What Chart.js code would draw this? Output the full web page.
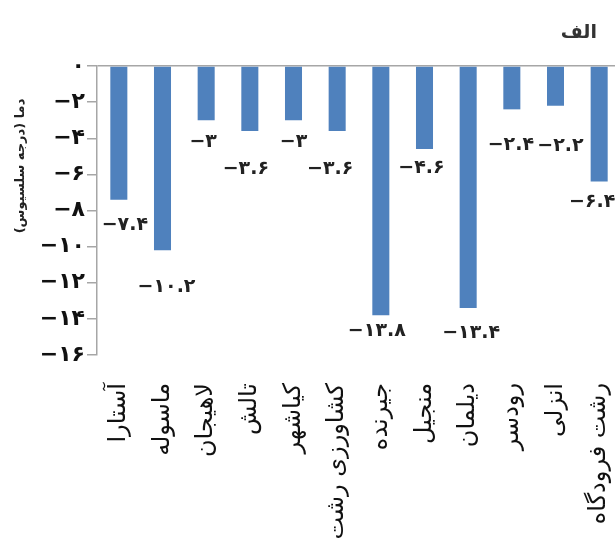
<!DOCTYPE html>
<html>
<head>
<meta charset="utf-8">
<script src="https://cdn.jsdelivr.net/npm/chart.js@4/dist/chart.umd.min.js"></script>
<style>
  html, body { margin: 0; padding: 0; background: #fff; overflow: hidden; }
  #wrap { width: 623px; height: 550px; }
</style>
</head>
<body>
<div id="wrap"><canvas id="chart" width="623" height="550"></canvas></div>
<script>
const STATIONS = ['آستارا', 'ماسوله', 'لاهیجان', 'تالش', 'کیاشهر', 'کشاورزی رشت', 'جیرنده', 'منجیل', 'دیلمان', 'رودسر', 'انزلی', 'رشت فرودگاه'];
const TEMPS = [-7.4, -10.2, -3, -3.6, -3, -3.6, -13.8, -4.6, -13.4, -2.4, -2.2, -6.4];
const Y_MIN = -16;
const Y_MAX = 0;
const Y_STEP = 2;
const PANEL = 'الف';
const Y_TITLE = 'دما (درجه سلسیوس)\u200F';

const FA_DIGITS = '۰۱۲۳۴۵۶۷۸۹';
function toFa(v) {
  return String(v).replace('-', '−').replace(/\d/g, d => FA_DIGITS[d]);
}

// value labels under each bar (hand-nudged like the original)
const valueLabels = {
  id: 'valueLabels',
  afterDatasetsDraw(chart, args, opts) {
    const ctx = chart.ctx;
    const meta = chart.getDatasetMeta(0);
    ctx.save();
    ctx.font = 'bold 19px "DejaVu Sans"';
    ctx.fillStyle = '#222';
    ctx.textAlign = 'center';
    ctx.textBaseline = 'middle';
    meta.data.forEach((bar, i) => {
      const n = opts.nudge[i] || [0, 24];
      ctx.fillText(toFa(chart.data.datasets[0].data[i]), bar.x + n[0], bar.y + n[1]);
    });
    ctx.restore();
  }
};

// panel letter + y axis title, placed relative to the plot area
const extraText = {
  id: 'extraText',
  afterDraw(chart) {
    const ctx = chart.ctx;
    const area = chart.chartArea;
    ctx.save();
    ctx.fillStyle = '#333';
    ctx.font = 'bold 19px "DejaVu Sans"';
    ctx.textAlign = 'right';
    ctx.textBaseline = 'middle';
    ctx.fillText(PANEL, area.right - 24, 33);

    ctx.fillStyle = '#222';
    ctx.font = 'bold 13px "DejaVu Sans"';
    ctx.textAlign = 'center';
    ctx.translate(21, area.top + 100);
    ctx.rotate(-Math.PI / 2);
    ctx.fillText(Y_TITLE, 0, 0);
    ctx.restore();
  }
};

new Chart(document.getElementById('chart'), {
  type: 'bar',
  data: {
    labels: STATIONS,
    datasets: [{
      data: TEMPS,
      backgroundColor: '#4f81bd',
      borderWidth: 0,
      categoryPercentage: 1,
      barPercentage: 0.39
    }]
  },
  options: {
    responsive: false,
    animation: false,
    layout: { padding: { top: 66, right: 2, left: 0, bottom: 0 } },
    plugins: {
      legend: { display: false },
      tooltip: { enabled: false },
      valueLabels: {
        nudge: [[6, 25], [4, 37], [-3, 22], [-4, 38], [0, 22], [-7, 38], [-4, 16], [-3, 19], [3, 25], [-1, 36], [5, 40], [-7, 20]]
      }
    },
    scales: {
      x: {
        grid: { display: false },
        border: { display: false },
        ticks: {
          autoSkip: false,
          maxRotation: 90,
          minRotation: 90,
          padding: 20,
          color: '#111',
          font: { family: 'DejaVu Sans', size: 24 }
        },
        afterFit(scale) {
          scale.height = 195;
          scale.paddingLeft = 0;
          scale.paddingRight = 0;
        }
      },
      y: {
        min: Y_MIN,
        max: Y_MAX,
        ticks: {
          stepSize: Y_STEP,
          padding: 2,
          color: '#111',
          font: { family: 'DejaVu Sans', size: 22, weight: 'bold' },
          callback: v => toFa(v)
        },
        grid: {
          drawOnChartArea: true,
          tickLength: 10,
          tickColor: '#a6a6a6',
          color: ctx => ctx.tick && ctx.tick.value === 0 ? '#a6a6a6' : 'rgba(0,0,0,0)',
          lineWidth: 1.5
        },
        border: { display: true, color: '#a6a6a6', width: 1.5 },
        afterFit(scale) {
          scale.width = 97;
          scale.paddingTop = 0;
          scale.paddingBottom = 0;
        }
      }
    }
  },
  plugins: [valueLabels, extraText]
});
</script>
</body>
</html>
